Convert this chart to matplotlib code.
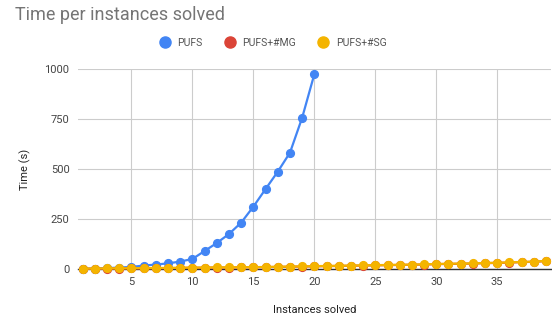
import matplotlib
matplotlib.use("Agg")
import matplotlib.pyplot as plt
from matplotlib.lines import Line2D

plt.rcParams['font.family'] = ['Roboto', 'DejaVu Sans']

# data
instances = list(range(1, 40))
pufs = [1, 2, 4, 7, 10, 17, 22, 28, 37, 50, 90, 130, 175, 232, 312, 400, 487, 582, 757, 975]
pufs_mg = [1, 1, 2, 2, 3, 3, 4, 4, 5, 6, 6, 7, 7, 8, 8, 9, 10, 11, 12, 13,
           14, 15, 16, 17, 18, 19, 20, 21, 22, 24, 25, 26, 27, 29, 30, 32, 34, 36, 39]
pufs_sg = [2, 2, 3, 3, 4, 4, 5, 5, 6, 7, 7, 8, 8, 9, 9, 10, 11, 12, 13, 14,
           15, 16, 17, 18, 19, 20, 21, 22, 23, 25, 26, 27, 28, 30, 31, 33, 35, 37, 40]

names = ['PUFS', 'PUFS+#MG', 'PUFS+#SG']
colors = ['#4285F4', '#DB4437', '#F4B400']

fig = plt.figure(figsize=(5.52, 3.26), dpi=100)
ax = fig.add_axes([0.141, 0.175, 0.857, 0.613])

series = [pufs, pufs_mg, pufs_sg]
for vals, c in zip(series, colors):
    ax.plot(instances[:len(vals)], vals, color=c, lw=1.6, marker='o', ms=5.6,
            mec=c, mfc=c, clip_on=False, zorder=3)

ax.set_xlim(0.6, 39.4)
ax.set_ylim(0, 1000)
ax.set_xticks([5, 10, 15, 20, 25, 30, 35])
ax.set_yticks([0, 250, 500, 750, 1000])
ax.grid(True, color='#cccccc', lw=0.8)
ax.set_axisbelow(True)
for s in ['top', 'right', 'left']:
    ax.spines[s].set_visible(False)
ax.spines['bottom'].set_color('#333333')
ax.spines['bottom'].set_linewidth(1.0)
ax.spines['bottom'].set_zorder(2)
ax.tick_params(length=0, labelsize=8, labelcolor='#444444', pad=6)

ax.set_xlabel('Instances solved', fontsize=8, color='#222222', labelpad=13)
ax.set_ylabel('Time (s)', fontsize=8, color='#222222', labelpad=10)

fig.text(0.027, 0.955, 'Time per instances solved', fontsize=13, color='#757575',
         va='center', ha='left')

handles = [Line2D([], [], ls='none', marker='o', ms=8, color=c) for c in colors]
fig.legend(handles, names, loc='center', bbox_to_anchor=(0.49, 0.868), ncol=3,
           frameon=False, fontsize=7.5, handletextpad=0.2, columnspacing=1.6,
           labelcolor='#555555')

fig.savefig('out.png', dpi=100)
